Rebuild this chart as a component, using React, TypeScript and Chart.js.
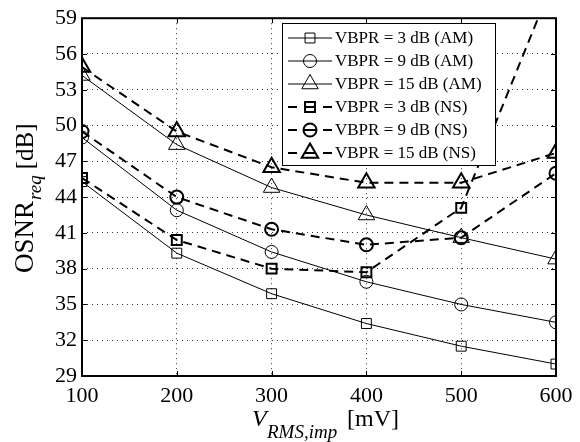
import React, { useEffect, useRef } from "react";
import { Chart, registerables } from "chart.js";

Chart.register(...registerables);

const xValues = [100, 200, 300, 400, 500, 600];
const yTicks = [29, 32, 35, 38, 41, 44, 47, 50, 53, 56, 59];
const am3 = [45.3, 39.3, 35.9, 33.4, 31.5, 30.0];
const am9 = [49.0, 42.9, 39.4, 36.9, 35.0, 33.5];
const am15 = [54.2, 48.4, 44.8, 42.5, 40.6, 38.8];
const ns3 = [45.6, 40.4, 38.0, 37.7, 43.1, 62.7];
const ns9 = [49.5, 44.0, 41.3, 40.0, 40.6, 46.0];
const ns15 = [54.9, 49.5, 46.5, 45.2, 45.2, 47.7];
const seriesLabels = [
  "VBPR = 3 dB (AM)",
  "VBPR = 9 dB (AM)",
  "VBPR = 15 dB (AM)",
  "VBPR = 3 dB (NS)",
  "VBPR = 9 dB (NS)",
  "VBPR = 15 dB (NS)",
];

const FONT = '"Liberation Serif", "Times New Roman", serif';

type Style = { shape: string; r: number; w: number; dash: number[] };
const styles: Style[] = [
  { shape: "rect", r: 7, w: 1, dash: [] },
  { shape: "circle", r: 6.5, w: 1, dash: [] },
  { shape: "triangle", r: 9.5, w: 1, dash: [] },
  { shape: "rect", r: 7, w: 2, dash: [9, 6] },
  { shape: "circle", r: 6.5, w: 2, dash: [9, 6] },
  { shape: "triangle", r: 9.5, w: 2, dash: [9, 6] },
];
const seriesData = [am3, am9, am15, ns3, ns9, ns15];

function drawMarker(ctx: CanvasRenderingContext2D, shape: string, x: number, y: number, r: number) {
  ctx.beginPath();
  if (shape === "rect") {
    const s = Math.SQRT1_2 * r;
    ctx.rect(x - s, y - s, 2 * s, 2 * s);
  } else if (shape === "circle") {
    ctx.arc(x, y, r, 0, Math.PI * 2);
  } else {
    let a = 0;
    ctx.moveTo(x + Math.sin(a) * r, y - Math.cos(a) * r);
    a += (2 * Math.PI) / 3;
    ctx.lineTo(x + Math.sin(a) * r, y - Math.cos(a) * r);
    a += (2 * Math.PI) / 3;
    ctx.lineTo(x + Math.sin(a) * r, y - Math.cos(a) * r);
    ctx.closePath();
  }
  ctx.stroke();
}

const decorPlugin = {
  id: "decor",
  afterDraw(chart: any) {
    const ctx: CanvasRenderingContext2D = chart.ctx;
    const { left, right, top, bottom } = chart.chartArea;
    const xs = chart.scales.x;
    const ys = chart.scales.y;
    ctx.save();
    ctx.strokeStyle = "#000";
    ctx.fillStyle = "#000";
    ctx.setLineDash([]);
    // inward tick marks
    ctx.lineWidth = 1;
    ctx.beginPath();
    xValues.forEach((v) => {
      const px = Math.round(xs.getPixelForValue(v)) + 0.5;
      ctx.moveTo(px, bottom);
      ctx.lineTo(px, bottom - 5);
      ctx.moveTo(px, top);
      ctx.lineTo(px, top + 5);
    });
    yTicks.forEach((v) => {
      const py = Math.round(ys.getPixelForValue(v)) + 0.5;
      ctx.moveTo(left, py);
      ctx.lineTo(left + 5, py);
      ctx.moveTo(right, py);
      ctx.lineTo(right - 5, py);
    });
    ctx.stroke();
    // box
    ctx.lineWidth = 2;
    ctx.strokeRect(left, top, right - left, bottom - top);

    // legend
    const lx = 282, ly = 23, lw = 213, lh = 142;
    ctx.fillStyle = "#fff";
    ctx.fillRect(lx, ly, lw, lh);
    ctx.lineWidth = 1;
    ctx.strokeStyle = "#000";
    ctx.strokeRect(lx + 0.5, ly + 0.5, lw, lh);
    ctx.font = `17px ${FONT}`;
    ctx.textBaseline = "middle";
    ctx.textAlign = "left";
    seriesLabels.forEach((lab, i) => {
      const y = 38 + i * 23;
      const st = styles[i];
      ctx.lineWidth = st.w;
      ctx.beginPath();
      if (st.dash.length === 0) {
        ctx.moveTo(288, y);
        ctx.lineTo(332, y);
      } else {
        ctx.moveTo(288, y);
        ctx.lineTo(297, y);
        ctx.moveTo(304, y);
        ctx.lineTo(316, y);
        ctx.moveTo(323, y);
        ctx.lineTo(332, y);
      }
      ctx.stroke();
      drawMarker(ctx, st.shape, 310, y, st.r);
      ctx.fillStyle = "#000";
      ctx.fillText(lab, 335, y + 1);
    });

    // x title
    ctx.textBaseline = "alphabetic";
    ctx.fillStyle = "#000";
    ctx.font = `italic 24px ${FONT}`;
    ctx.fillText("V", 252, 426);
    ctx.font = `italic 19px ${FONT}`;
    ctx.fillText("RMS,imp", 267, 438);
    ctx.font = `24px ${FONT}`;
    ctx.fillText("[mV]", 347, 426);

    // y title
    ctx.translate(33, 273);
    ctx.rotate(-Math.PI / 2);
    ctx.font = `27px ${FONT}`;
    ctx.fillText("OSNR", 0, 0);
    let w = ctx.measureText("OSNR").width;
    ctx.font = `italic 19px ${FONT}`;
    ctx.fillText("req", w + 1, 8);
    w += 1 + ctx.measureText("req").width + 6;
    ctx.font = `25px ${FONT}`;
    ctx.fillText("[dB]", w, 0);
    ctx.restore();
  },
};

export default function App() {
  const ref = useRef<HTMLCanvasElement | null>(null);
  useEffect(() => {
    if (!ref.current) return;
    const datasets = seriesData.map((arr, i) => {
      const st = styles[i];
      return {
        label: seriesLabels[i],
        data: arr.map((y, j) => ({ x: xValues[j], y })),
        borderColor: "#000",
        backgroundColor: "rgba(0,0,0,0)",
        borderWidth: st.w,
        borderDash: st.dash,
        pointStyle: st.shape,
        pointRadius: st.r,
        pointBorderWidth: st.w,
        pointBorderColor: "#000",
        pointBackgroundColor: "rgba(0,0,0,0)",
        tension: 0,
        fill: false,
      };
    });
    const chart = new Chart(ref.current, {
      type: "line",
      data: { datasets },
      options: {
        animation: false,
        responsive: true,
        maintainAspectRatio: false,
        layout: { padding: { top: 18, right: 24, left: 0, bottom: 0 } },
        plugins: { legend: { display: false }, tooltip: { enabled: false } },
        scales: {
          x: {
            type: "linear",
            min: 100,
            max: 600,
            afterFit: (s: any) => {
              s.height = 66;
            },
            ticks: {
              stepSize: 100,
              color: "#000",
              font: { family: FONT, size: 22 },
              padding: 7,
              maxRotation: 0,
            },
            grid: { color: "#333", lineWidth: 1, drawTicks: false },
            border: { display: false, dash: [1, 4] },
          },
          y: {
            type: "linear",
            min: 29,
            max: 59,
            afterFit: (s: any) => {
              s.width = 82;
            },
            ticks: {
              stepSize: 3,
              color: "#000",
              font: { family: FONT, size: 22 },
              padding: 5,
            },
            grid: { color: "#333", lineWidth: 1, drawTicks: false },
            border: { display: false, dash: [1, 4] },
          },
        },
      },
      plugins: [decorPlugin],
    } as any);
    return () => chart.destroy();
  }, []);
  return (
    <div style={{ position: "fixed", left: 0, top: 0, width: 580, height: 442, background: "#fff" }}>
      <canvas ref={ref} />
    </div>
  );
}
